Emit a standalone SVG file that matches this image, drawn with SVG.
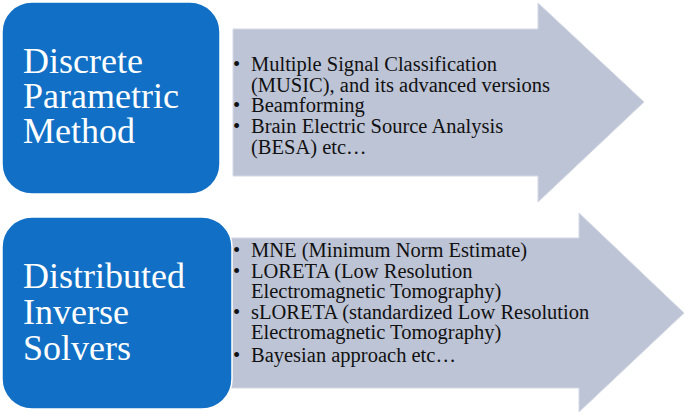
<svg xmlns="http://www.w3.org/2000/svg" width="685" height="414" viewBox="0 0 685 414">
<style>
.box{fill:#1170C5;stroke:#ffffff;stroke-width:1.5}
.arrow{fill:#BDC4D6;stroke:#D3D8E4;stroke-width:1}
.title{font-family:'Liberation Serif','Times New Roman',serif;font-size:36px;fill:#ffffff}
.item{font-family:'Liberation Serif','Times New Roman',serif;font-size:20.5px;fill:#111111}
</style>
<rect width="685" height="414" fill="#ffffff"/>
<g id="connectors">
<path id="arrow1" class="arrow" d="M233,29 H538 V3 L644,102 L538,202 V176 H233 Z"/>
<path id="arrow2" class="arrow" d="M225,238 H579 V213 L684,313 L579,412 V388 H225 Z"/>
</g>
<g id="node-discrete">
<rect class="box" x="2" y="2" width="218" height="192" rx="30" ry="30"/>
<text class="title"><tspan x="23" y="73">Discrete</tspan><tspan x="23" y="108">Parametric</tspan><tspan x="23" y="143">Method</tspan></text>
</g>
<g id="node-discrete-list">
<text class="item"><tspan x="233" y="71">•</tspan><tspan x="251" y="71">Multiple Signal Classification</tspan><tspan x="251" y="91.5">(MUSIC), and its advanced versions</tspan><tspan x="233" y="112">•</tspan><tspan x="251" y="112">Beamforming</tspan><tspan x="233" y="133">•</tspan><tspan x="251" y="133">Brain Electric Source Analysis</tspan><tspan x="251" y="153.5">(BESA) etc…</tspan></text>
</g>
<g id="node-distributed">
<rect class="box" x="2" y="217" width="230" height="192" rx="30" ry="30"/>
<text class="title"><tspan x="23" y="288">Distributed</tspan><tspan x="23" y="324">Inverse</tspan><tspan x="23" y="360">Solvers</tspan></text>
</g>
<g id="node-distributed-list">
<text class="item"><tspan x="233" y="257">•</tspan><tspan x="251" y="257">MNE (Minimum Norm Estimate)</tspan><tspan x="233" y="278">•</tspan><tspan x="251" y="278">LORETA (Low Resolution</tspan><tspan x="251" y="298">Electromagnetic Tomography)</tspan><tspan x="233" y="319">•</tspan><tspan x="251" y="319">sLORETA (standardized Low Resolution</tspan><tspan x="251" y="339">Electromagnetic Tomography)</tspan><tspan x="233" y="362">•</tspan><tspan x="251" y="362">Bayesian approach etc…</tspan></text>
</g>
</svg>
